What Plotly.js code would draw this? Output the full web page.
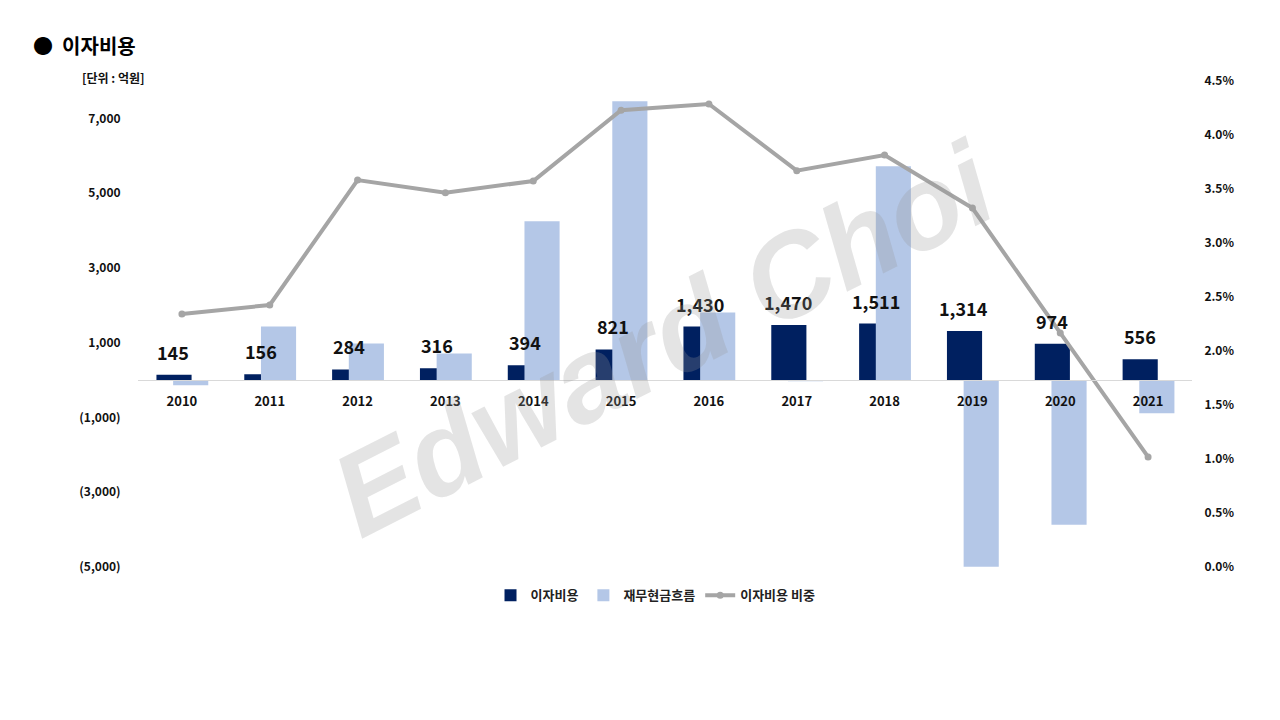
<!DOCTYPE html>
<html>
<head>
<meta charset="utf-8">
<script src="https://cdn.plot.ly/plotly-3.0.1.min.js"></script>
<style>
  html, body { margin: 0; padding: 0; background: #ffffff; }
  #chart { width: 1280px; height: 720px; }
</style>
</head>
<body>
<div id="chart"></div>
<script>
// ---- data ----
const years = ['2010','2011','2012','2013','2014','2015','2016','2017','2018','2019','2020','2021'];
const interestExpense = [145, 156, 284, 316, 394, 821, 1430, 1470, 1511, 1314, 974, 556];
const financingCashFlow = [-140, 1433, 978, 710, 4246, 7460, 1808, -30, 5719, -4990, -3871, -889];
const interestRatio = [0.02343, 0.02426, 0.03583, 0.03466, 0.03574, 0.0423, 0.04287, 0.0367, 0.03815, 0.03324, 0.02167, 0.01019];
const leftTickVals = [-5000, -3000, -1000, 1000, 3000, 5000, 7000];
const leftTickText = ['(5,000)', '(3,000)', '(1,000)', '1,000', '3,000', '5,000', '7,000'];
const seriesNames = ['이자비용', '재무현금흐름', '이자비용 비중'];
const chartTitle = '●  이자비용';
const unitLabel = '[단위 : 억원]';
const watermark = 'Edward Choi';

const FONT = '"Noto Sans CJK KR", "Noto Sans", sans-serif';
const DARK = '#002060';
const LIGHT = '#B4C7E7';
const GRAY = '#A5A5A5';

function fmt(v) {
  return String(v).replace(/\B(?=(\d{3})+(?!\d))/g, ',');
}

const traces = [
  {
    type: 'bar', name: seriesNames[0], x: years, y: interestExpense,
    width: 0.4, offset: -0.29, marker: { color: DARK }, yaxis: 'y', xaxis: 'x'
  },
  {
    type: 'bar', name: seriesNames[1], x: years, y: financingCashFlow,
    width: 0.4, offset: -0.1, marker: { color: LIGHT }, yaxis: 'y', xaxis: 'x'
  },
  {
    type: 'scatter', mode: 'lines+markers', name: seriesNames[2], x: years, y: interestRatio,
    line: { color: GRAY, width: 4 }, marker: { color: GRAY, size: 7 },
    yaxis: 'y2', xaxis: 'x'
  }
];

const annotations = [];
for (let i = 0; i < years.length; i++) {
  annotations.push({
    x: i, y: interestExpense[i], xref: 'x', yref: 'y',
    text: '<b>' + fmt(interestExpense[i]) + '</b>',
    showarrow: false, yanchor: 'bottom', xanchor: 'center',
    xshift: -8.5, yshift: 8,
    font: { family: FONT, size: 18, color: '#111111' }
  });
}

annotations.push({
  xref: 'paper', yref: 'paper', x: -0.055, y: 1.008, xanchor: 'left', yanchor: 'middle',
  text: '<b>' + unitLabel + '</b>', showarrow: false,
  font: { family: FONT, size: 12, color: '#111111' }
});

annotations.push({
  xref: 'paper', yref: 'paper', x: 0.499, y: 0.47, xanchor: 'center', yanchor: 'middle',
  text: '<b><i>' + watermark + '</i></b>', showarrow: false, textangle: -27,
  font: { family: '"Liberation Sans", Arial, sans-serif', size: 118, color: 'rgba(150,150,150,0.26)' }
});

const layout = {
  width: 1280, height: 720,
  paper_bgcolor: '#ffffff', plot_bgcolor: '#ffffff',
  margin: { l: 138, r: 88, t: 81, b: 153 },
  barmode: 'overlay',
  showlegend: true,
  title: {
    text: '<b>' + chartTitle + '</b>',
    x: 33 / 1280, xanchor: 'left', xref: 'container',
    y: 1 - 47 / 720, yanchor: 'middle', yref: 'container',
    font: { family: FONT, size: 20, color: '#000000' }
  },
  legend: {
    orientation: 'h', x: 0.491, y: -0.058, xanchor: 'center', yanchor: 'middle',
    font: { family: FONT, size: 13, color: '#222222', weight: 'bold' },
    traceorder: 'normal', itemwidth: 30
  },
  xaxis: {
    type: 'category', anchor: 'free', position: 5000 / 13000,
    showgrid: false, zeroline: false,
    showline: true, linecolor: '#D9D9D9', linewidth: 1,
    ticks: 'outside', ticklen: 9, tickcolor: 'rgba(0,0,0,0)',
    tickfont: { family: FONT, size: 13, color: '#111111', weight: 'bold' },
    range: [-0.5, 11.5], fixedrange: true
  },
  yaxis: {
    range: [-5000, 8000], tickvals: leftTickVals, ticktext: leftTickText,
    showgrid: false, zeroline: false, showline: false,
    ticks: 'outside', ticklen: 14, tickcolor: 'rgba(0,0,0,0)',
    tickfont: { family: FONT, size: 12, color: '#111111', weight: 'bold' },
    fixedrange: true
  },
  yaxis2: {
    overlaying: 'y', side: 'right', range: [0, 0.045], dtick: 0.005, tick0: 0,
    tickformat: '.1%', showgrid: false, zeroline: false, showline: false,
    ticks: 'outside', ticklen: 9, tickcolor: 'rgba(0,0,0,0)',
    tickfont: { family: FONT, size: 12, color: '#111111', weight: 'bold' },
    fixedrange: true
  },
  annotations: annotations
};

Plotly.newPlot('chart', traces, layout, { displayModeBar: false, staticPlot: true });
</script>
</body>
</html>
